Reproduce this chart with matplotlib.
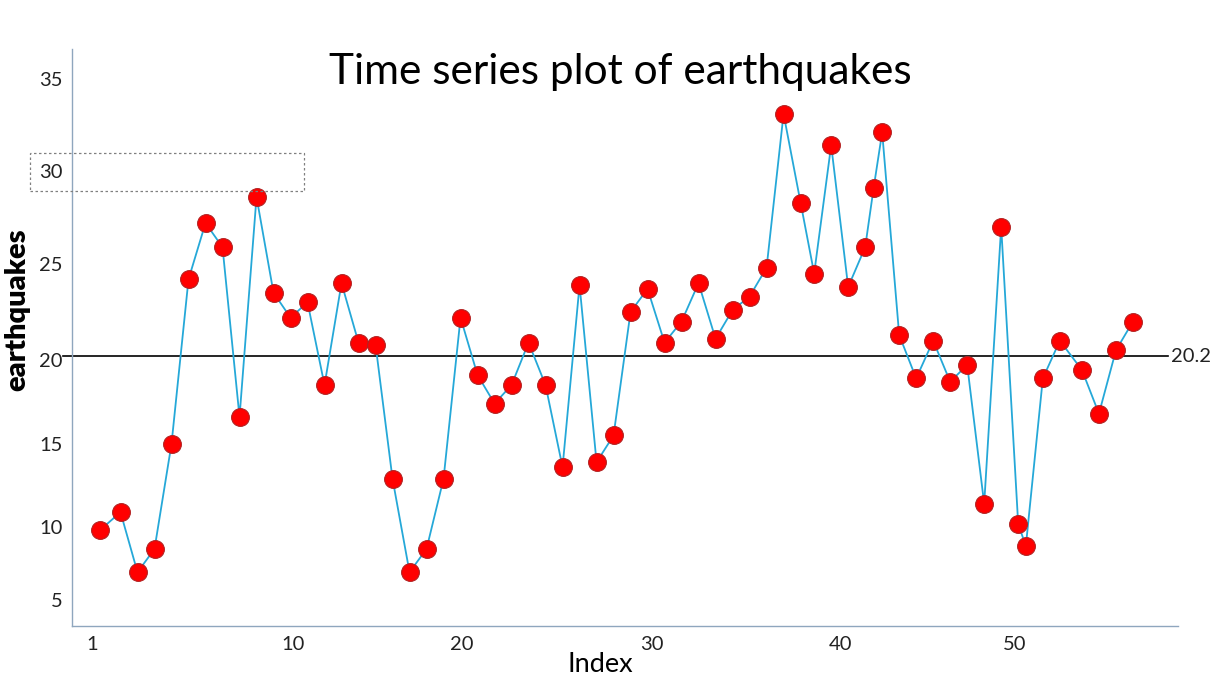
import numpy as np
import matplotlib
matplotlib.use('Agg')
from matplotlib import pyplot as plt
from matplotlib.patches import Rectangle

plt.rcParams['font.family'] = ['Lato', 'DejaVu Sans']

# positions of the points along the index axis, as drawn
index = [0.8] + list(range(2, 43)) + [42.8, 43.8, 44.8, 45.8, 46.3, 46.8, 47.8, 48.8, 49.8, 50.8,
                                      51.8, 52.8, 53.8, 54.8, 55.25, 56.25, 57.25, 58.55, 59.55,
                                      60.55, 61.55]

earthquakes = [9.8, 10.9, 6.9, 8.5, 15.0, 24.2, 27.2, 25.9, 16.6, 28.6,
               23.5, 22.2, 23.0, 18.5, 24.0, 20.9, 20.8, 12.9, 6.9, 8.5,
               12.9, 22.2, 19.1, 17.4, 18.5, 20.9, 18.5, 13.6, 23.9, 13.9,
               15.5, 22.5, 23.7, 20.9, 22.0, 24.0, 21.1, 22.6, 23.3, 24.8,
               33.1, 28.3, 24.5, 31.4, 23.8, 25.9, 29.1, 32.1, 21.3, 18.9,
               21.0, 18.7, 19.7, 11.4, 27.0, 10.2, 8.7, 18.9, 21.0, 19.4,
               16.8, 20.5, 22.0]

mean_value = 20.2

y_ticks = [5, 10, 15, 20, 25, 30, 35]
x_tick_labels = ['1', '10', '20', '30', '40', '50']

# the picture's value axis is not evenly spaced: heights (px from bottom) of each label
scale_vals = [0, 5, 10, 15, 20, 25, 30, 35, 40]
scale_h = [7.3, 80, 152.7, 236, 320, 416, 509, 601, 693]

def fwd(v):
    return np.interp(v, scale_vals, scale_h)

def inv(h):
    return np.interp(h, scale_h, scale_vals)

# where the index labels sit along the axis
x_tick_pos = [0.31, 12.16, 22.07, 33.26, 44.33, 54.62]

fig = plt.figure(figsize=(12.15, 6.8), dpi=100)
ax = fig.add_axes([72 / 1215, 54 / 680, 1106 / 1215, 577 / 680])
ax.set_yscale('function', functions=(fwd, inv))

ax.plot(index, earthquakes, color='#25A8D8', lw=1.3, zorder=2)
ax.plot(index, earthquakes, ls='none', marker='o', ms=12.8,
        mfc='#FF0000', mec='#B22222', mew=0.8, zorder=3)

ax.axhline(mean_value, xmin=-0.008, xmax=0.991, color='black', lw=1.2, clip_on=False, zorder=1)
ax.text(0.9935, mean_value, str(mean_value), transform=ax.get_yaxis_transform(),
        ha='left', va='center', fontsize=14.5, color='#222222')

ax.set_xlim(-0.853, 64.2)
ax.set_ylim(3.2, 36.63)

ax.set_yticks(y_ticks)
ax.set_yticklabels([str(t) for t in y_ticks])
ax.set_xticks(x_tick_pos)
ax.set_xticklabels(x_tick_labels)
ax.yaxis.set_minor_locator(plt.NullLocator())
ax.tick_params(axis='both', length=0, labelsize=14.5, colors='#222222')
ax.tick_params(axis='y', pad=7)
ax.tick_params(axis='x', pad=7)

for side in ['top', 'right']:
    ax.spines[side].set_visible(False)
for side in ['left', 'bottom']:
    ax.spines[side].set_color('#8FA6BE')
    ax.spines[side].set_linewidth(1.0)

# dotted box round the "30" label
fig.patches.append(Rectangle((30 / 1215, (680 - 191) / 680), 274 / 1215, 38 / 680,
                             transform=fig.transFigure, fill=False, ec='#808080',
                             lw=0.9, ls=(0, (2, 2))))

fig.text(620 / 1215, (680 - 72) / 680, 'Time series plot of earthquakes',
         ha='center', va='center', fontsize=30.5)
fig.text(600 / 1215, (680 - 664) / 680, 'Index', ha='center', va='center', fontsize=19.5)
fig.text(17 / 1215, (680 - 310) / 680, 'earthquakes', rotation=90, ha='center', va='center',
         fontsize=21, fontweight='heavy')

fig.savefig('out.png', dpi=100)
